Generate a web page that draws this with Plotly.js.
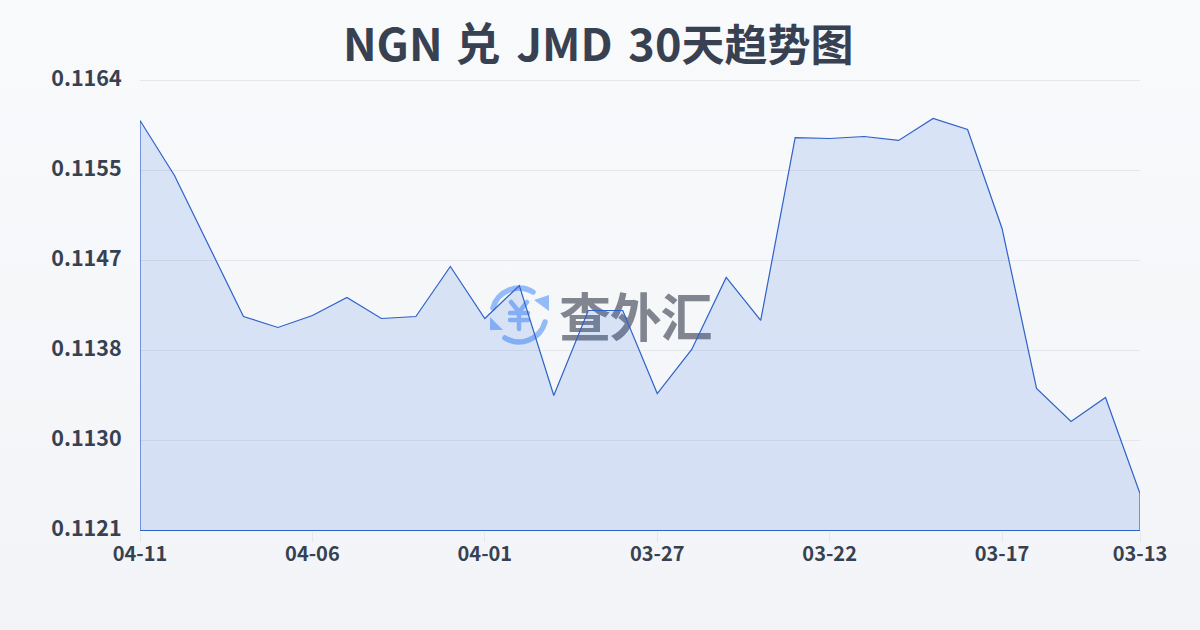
<!DOCTYPE html>
<html><head><meta charset="utf-8">
<script src="https://cdn.plot.ly/plotly-3.0.1.min.js"></script>
<style>
html,body{margin:0;padding:0;width:1200px;height:630px;overflow:hidden;background:linear-gradient(180deg,#f8fafc 0%,#f2f4f7 100%);}
#wm{position:absolute;left:0;top:0;width:1200px;height:630px;z-index:0;}
#wm .t{position:absolute;left:559px;top:275px;font:700 52px/80px "Noto Sans CJK SC";color:#80858f;letter-spacing:-1.3px;white-space:nowrap;}
#wm svg{position:absolute;left:488px;top:284px;}
#chart{position:absolute;left:0;top:0;width:1200px;height:630px;z-index:1;}
</style></head><body>
<div id="wm">
<svg width="64" height="62" viewBox="0 0 64 62" fill="none">
<path d="M5 24 A27 27 0 0 1 45 8" stroke="#93bbf8" stroke-width="5.5" stroke-linecap="round"/>
<path d="M46 16 L61 27 L61 11 Z" fill="#93bbf8"/>
<path d="M57 38 A27 27 0 0 1 17 54" stroke="#93bbf8" stroke-width="5.5" stroke-linecap="round"/>
<path d="M2 33 L2 46 L15 46 Z" fill="#93bbf8"/>
<path d="M23 18 L31 28 L39 18 M22 29 H40 M22 36 H40 M31 28 V45" stroke="#93bbf8" stroke-width="4.5" stroke-linecap="round" stroke-linejoin="round"/>
</svg>
<div class="t">查外汇</div>
</div>
<div id="chart"></div>
<script>
const dates = ["04-11","04-10","04-09","04-08","04-07","04-06","04-05","04-04","04-03","04-02","04-01","03-31","03-30","03-29","03-28","03-27","03-26","03-25","03-24","03-23","03-22","03-21","03-20","03-19","03-18","03-17","03-16","03-15","03-14","03-13"];
const rates = [0.116018,0.115492,0.114823,0.114145,0.11404,0.114154,0.114326,0.114126,0.114145,0.114623,0.114126,0.114441,0.11339,0.114202,0.114202,0.113409,0.11383,0.114518,0.114107,0.115855,0.115846,0.115865,0.115827,0.116037,0.115932,0.114986,0.113457,0.113142,0.113371,0.112454];
const yTickVals = [0.1121,0.11296,0.11382,0.11468,0.11554,0.1164];
const yTickText = ["0.1121","0.1130","0.1138","0.1147","0.1155","0.1164"];
const xTickVals = ["04-11","04-06","04-01","03-27","03-22","03-17","03-13"];
const yBase = 0.1121, yTop = 0.1164;
const first = dates[0], last = dates[dates.length-1];
const textColor = "#374151";
const fontFam = '"Noto Sans CJK SC","Noto Sans",sans-serif';
const hair = "\u200A";
const titleText = "<b>NGN"+hair+" 兑"+hair+" "+hair+"JMD"+hair+" "+hair+"30"+'<span style="font-size:43px">天趋势图</span></b>';
const unit = (yTop-yBase)/450;
Plotly.newPlot("chart",[{
  type:"scatter",mode:"lines",cliponaxis:false,
  x:[first,...dates,last,first],
  y:[yBase,...rates,yBase,yBase],
  fill:"toself",fillcolor:"rgba(37,99,225,0.14)",
  line:{color:"#2f62c8",width:1.2,shape:"linear"},
  hoverinfo:"skip"
}],{
  width:1200,height:630,
  paper_bgcolor:"rgba(0,0,0,0)",plot_bgcolor:"rgba(0,0,0,0)",
  margin:{l:140,r:60,t:78,b:99},
  showlegend:false,
  font:{family:fontFam,color:textColor},
  title:{text:titleText,x:0.4985,xanchor:"center",y:0.928,yanchor:"middle",
    font:{size:45,family:fontFam,color:textColor}},
  xaxis:{type:"category",categoryorder:"array",categoryarray:dates,range:[0,dates.length-1],
    tickmode:"array",tickvals:xTickVals,ticktext:xTickVals.map(s=>"<b>"+s+"</b>"),
    ticks:"outside",ticklen:10,tickwidth:1,tickcolor:"#e5e7eb",showgrid:false,zeroline:false,showline:false,
    tickangle:0,ticklabelstandoff:-5,tickfont:{size:20,color:textColor}},
  yaxis:{range:[yBase-0.5*unit,yTop+2.5*unit],tickmode:"array",tickvals:yTickVals,ticktext:yTickText.map(s=>"<b>"+s+"</b>"),
    ticks:"outside",ticklen:13,tickcolor:"rgba(0,0,0,0)",showgrid:true,gridcolor:"#e5e7eb",gridwidth:1,zeroline:false,showline:false,
    ticklabelshift:-2,tickfont:{size:21.5,color:textColor}}
},{staticPlot:true,displayModeBar:false});
</script>
</body></html>
